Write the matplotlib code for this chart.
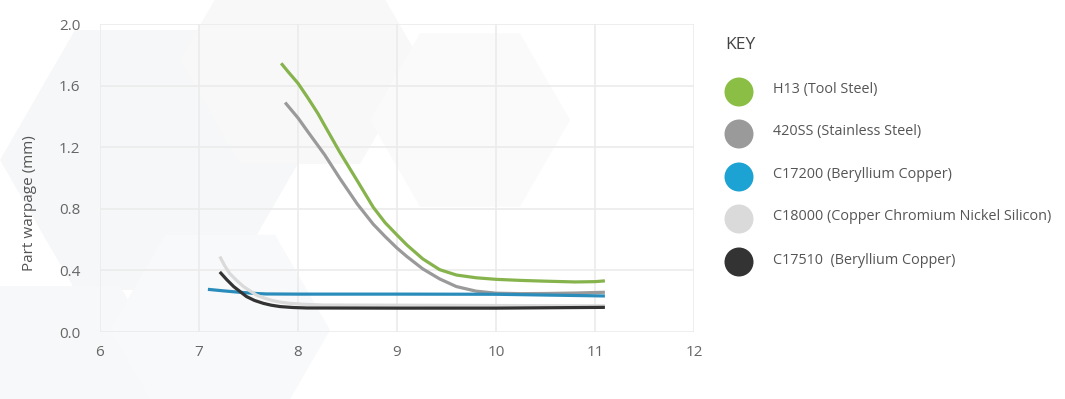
import matplotlib
matplotlib.use("Agg")
import matplotlib.pyplot as plt
from matplotlib.patches import Polygon
import numpy as np

# ---- data ----
series_names = ["H13 (Tool Steel)", "420SS (Stainless Steel)", "C17200 (Beryllium Copper)",
                "C18000 (Copper Chromium Nickel Silicon)", "C17510  (Beryllium Copper)"]
line_colors = ["#86B34C", "#9A9A9A", "#2A8CBB", "#DADADA", "#333333"]
key_colors = ["#8BBE45", "#9A9A9A", "#1CA3D3", "#DADADA", "#333333"]

h13_x = [7.83, 7.9, 8.0, 8.1, 8.2, 8.27, 8.42, 8.61, 8.76, 8.88, 9.0, 9.1, 9.26, 9.43,
         9.6, 9.8, 10.0, 10.25, 10.5, 10.8, 11.0, 11.1]
h13_y = [1.745, 1.69, 1.615, 1.52, 1.42, 1.34, 1.17, 0.97, 0.81, 0.71, 0.63, 0.565, 0.475, 0.405,
         0.37, 0.352, 0.342, 0.335, 0.33, 0.325, 0.327, 0.332]

ss_x = [7.87, 8.0, 8.1, 8.27, 8.42, 8.6, 8.76, 8.88, 9.0, 9.1, 9.26, 9.43, 9.6, 9.8,
        10.0, 10.25, 10.5, 10.8, 11.1]
ss_y = [1.49, 1.39, 1.30, 1.15, 1.0, 0.83, 0.70, 0.62, 0.545, 0.49, 0.41, 0.345, 0.295, 0.265,
        0.252, 0.249, 0.25, 0.253, 0.258]

c17200_x = [7.09, 7.25, 7.41, 7.58, 7.68, 8.0, 9.0, 10.0, 10.5, 11.1]
c17200_y = [0.277, 0.267, 0.258, 0.25, 0.247, 0.246, 0.246, 0.245, 0.24, 0.234]

c18000_x = [7.21, 7.26, 7.31, 7.38, 7.45, 7.52, 7.58, 7.66, 7.75, 7.83, 7.92, 8.05, 8.26, 9.0, 10.0, 11.1]
c18000_y = [0.49, 0.43, 0.38, 0.335, 0.295, 0.265, 0.24, 0.22, 0.203, 0.193, 0.186, 0.18, 0.175, 0.174, 0.172, 0.17]

c17510_x = [7.21, 7.28, 7.35, 7.42, 7.48, 7.56, 7.65, 7.73, 7.82, 7.95, 8.09, 9.0, 10.0, 11.1]
c17510_y = [0.39, 0.34, 0.295, 0.26, 0.23, 0.205, 0.186, 0.174, 0.165, 0.159, 0.156, 0.155, 0.155, 0.16]

xs = [h13_x, ss_x, c17200_x, c18000_x, c17510_x]
ys = [h13_y, ss_y, c17200_y, c18000_y, c17510_y]

x_ticks = [6, 7, 8, 9, 10, 11, 12]
y_ticks = [0.0, 0.4, 0.8, 1.2, 1.6, 2.0]
y_label = "Part warpage (mm)"
key_title = "KEY"

plt.rcParams['font.family'] = ['Open Sans', 'DejaVu Sans']

W, H = 1065, 399
fig = plt.figure(figsize=(W / 100, H / 100), dpi=100)
fig.patch.set_facecolor("white")

# faint hexagon background decoration
bg = fig.add_axes([0, 0, 1, 1])
bg.set_xlim(0, W)
bg.set_ylim(H, 0)
bg.axis("off")
def hexagon(cx, cy, r):
    ang = np.deg2rad(np.arange(0, 360, 60))
    return np.column_stack([cx + r * np.cos(ang), cy + r * np.sin(ang)])
for (cx, cy, r, c) in [(150, 160, 150, "#F6F7F8"), (300, 60, 120, "#F8F8F9"),
                       (60, 390, 120, "#F7F8F9"), (470, 120, 100, "#FAFAFB"),
                       (220, 330, 110, "#F8F9FA")]:
    bg.add_patch(Polygon(hexagon(cx, cy, r), closed=True, facecolor=c, edgecolor="none"))

# main axes
ax = fig.add_axes([100 / W, 1 - 332 / H, (694 - 100) / W, (332 - 24) / H])
ax.patch.set_alpha(0)
for x, y, c in zip(xs, ys, line_colors):
    ax.plot(x, y, color=c, lw=2.3, solid_capstyle="butt", solid_joinstyle="round")

ax.set_xlim(6, 12)
ax.set_ylim(0, 2.0)
ax.set_xticks(x_ticks)
ax.set_yticks(y_ticks)
ax.set_xticklabels([str(t) for t in x_ticks])
ax.set_yticklabels([f"{t:.1f}" for t in y_ticks])
ax.grid(True, color="#EBEBEB", lw=1.2)
ax.set_axisbelow(True)
for s in ax.spines.values():
    s.set_visible(False)
ax.tick_params(length=0, colors="#666666", labelsize=11, pad=9)
ax.tick_params(axis="y", pad=14)
ax.set_ylabel(y_label, fontsize=11, color="#555555")
ax.yaxis.set_label_coords(-0.106, 0.42)

# key (manual legend)
lax = fig.add_axes([0, 0, 1, 1])
lax.set_xlim(0, W)
lax.set_ylim(H, 0)
lax.axis("off")
lax.text(725, 45, key_title, fontsize=12.5, color="#444444", va="center", ha="left")
row_y = [92, 134, 177, 219, 262]
for yy, name, c in zip(row_y, series_names, key_colors):
    lax.scatter([739], [yy], s=(29 * 0.72) ** 2, color=c, edgecolors="none")
    lax.text(773, yy - 2, name, fontsize=10.4, color="#555555", va="center", ha="left")

fig.savefig("out.png", dpi=100)
